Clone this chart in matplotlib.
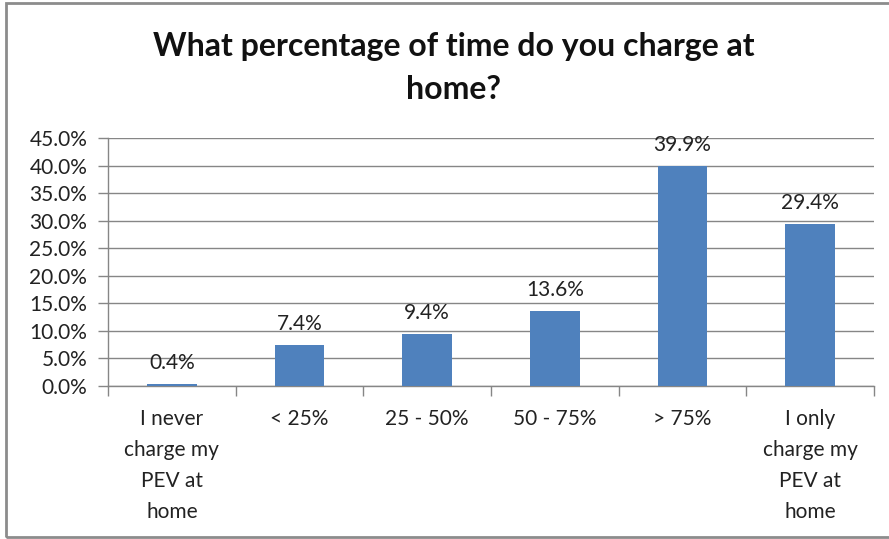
import numpy as np
import matplotlib.pyplot as plt
from matplotlib.patches import Rectangle
from matplotlib.ticker import PercentFormatter, FixedLocator

categories = ["I never\ncharge my\nPEV at\nhome", "< 25%", "25 - 50%", "50 - 75%",
              "> 75%", "I only\ncharge my\nPEV at\nhome"]
values = [0.4, 7.4, 9.4, 13.6, 39.9, 29.4]
yticks = [0, 5, 10, 15, 20, 25, 30, 35, 40, 45]

plt.rcParams["font.family"] = ["Lato", "DejaVu Sans"]
GRID = "#868686"
BAR = "#4F81BD"

fig = plt.figure(figsize=(8.89, 5.39), dpi=100)
ax = fig.add_axes([0.1215, 0.2839, 0.9832 - 0.1215, 0.744 - 0.2839])

x = np.arange(len(categories))
bars = ax.bar(x, values, width=0.39, color=BAR, zorder=3)

for xi, v in zip(x, values):
    ax.text(xi, v + 2.0, f"{v:.1f}%", ha="center", va="bottom",
            fontsize=15, color="#222222")

ax.set_xlim(-0.5, len(categories) - 0.5)
ax.set_ylim(0, 45)
ax.set_yticks(yticks)
ax.yaxis.set_major_formatter(PercentFormatter(decimals=1))
ax.yaxis.grid(True, color=GRID, linewidth=1)
ax.set_axisbelow(True)

ax.set_xticks(x)
ax.set_xticklabels(categories, fontsize=15, color="#222222", linespacing=1.68)
ax.xaxis.set_minor_locator(FixedLocator(np.arange(-0.5, len(categories), 1.0)))
ax.tick_params(axis="x", which="major", length=0, pad=16.5)
ax.tick_params(axis="x", which="minor", length=7, color=GRID, width=1)
ax.tick_params(axis="y", length=7, color=GRID, width=1, pad=8,
               labelsize=15, labelcolor="#222222")

for s in ["top", "right"]:
    ax.spines[s].set_visible(False)
for s in ["left", "bottom"]:
    ax.spines[s].set_color(GRID)
    ax.spines[s].set_linewidth(1)

fig.text(0.51, 0.874, "What percentage of time do you charge at\nhome?",
         ha="center", va="center", fontsize=23, fontweight="bold",
         color="#111111", linespacing=1.6)

fig.patches.append(Rectangle((0.007, 0.004), 1.02, 0.99, transform=fig.transFigure,
                             fill=False, edgecolor="#8c8c8c", linewidth=2))

fig.savefig("out.png", dpi=100)
